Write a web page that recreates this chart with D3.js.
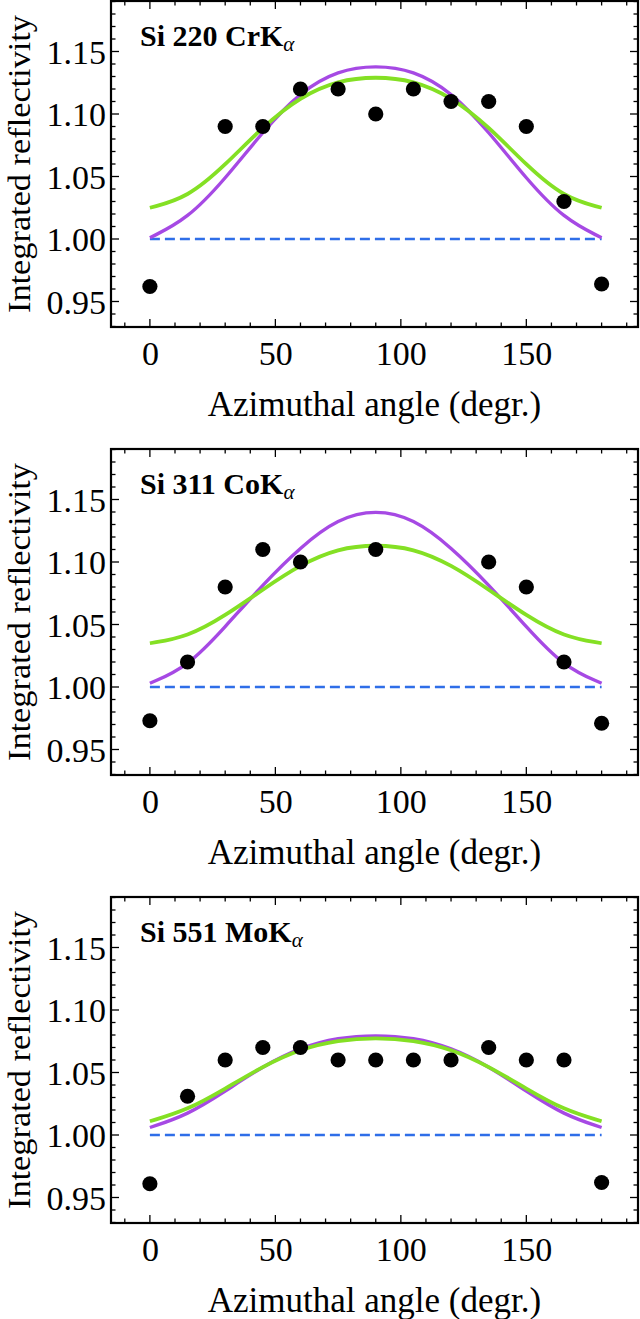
<!DOCTYPE html>
<html><head><meta charset="utf-8">
<script src="https://cdn.jsdelivr.net/npm/d3@7"></script>
<style>body{margin:0;background:#fff}svg{display:block}</style>
</head><body>
<script>
// ---- data ----
const curveAngles = [0,15,30,45,60,75,90,105,120,135,150,165,180];
const panelNames = ["Si 220 CrK", "Si 311 CoK", "Si 551 MoK"];
const xTicks = [0,50,100,150];
const yTicks = [0.95,1.00,1.05,1.10,1.15];

const dotsX220 = [0,30,45,60,75,90,105,120,135,150,165,180];
const dotsY220 = [0.962,1.09,1.09,1.12,1.12,1.10,1.12,1.11,1.11,1.09,1.03,0.964];
const purple220 = [1.001,1.016,1.048,1.086,1.118,1.135,1.139,1.135,1.118,1.086,1.048,1.016,1.001];
const green220  = [1.025,1.033,1.059,1.090,1.114,1.127,1.130,1.127,1.114,1.090,1.059,1.033,1.025];

const dotsX311 = [0,15,30,45,60,90,135,150,165,180];
const dotsY311 = [0.973,1.02,1.08,1.11,1.10,1.11,1.10,1.08,1.02,0.971];
const purple311 = [1.003,1.016,1.048,1.082,1.112,1.135,1.142,1.135,1.112,1.082,1.048,1.016,1.003];
const green311  = [1.035,1.040,1.057,1.078,1.098,1.111,1.114,1.111,1.098,1.078,1.057,1.040,1.035];

const dotsX551 = [0,15,30,45,60,75,90,105,120,135,150,165,180];
const dotsY551 = [0.961,1.031,1.06,1.07,1.07,1.06,1.06,1.06,1.06,1.07,1.06,1.06,0.962];
const purple551 = [1.006,1.016,1.035,1.055,1.070,1.078,1.080,1.078,1.070,1.055,1.035,1.016,1.006];
const green551  = [1.011,1.020,1.037,1.055,1.069,1.076,1.078,1.076,1.069,1.055,1.037,1.020,1.011];

const panels = [
  {name: panelNames[0], dx: dotsX220, dy: dotsY220, purple: purple220, green: green220},
  {name: panelNames[1], dx: dotsX311, dy: dotsY311, purple: purple311, green: green311},
  {name: panelNames[2], dx: dotsX551, dy: dotsY551, purple: purple551, green: green551}
];

// ---- layout ----
const W = 640, H = 1319;
const offsets = [0, 448, 896];
const frameL = 111, frameR = 638, frameT = 1, frameB = 327;
const serif = "'Liberation Serif','Times New Roman',Times,serif";

const svg = d3.select("body").append("svg").attr("width", W).attr("height", H);

const x = d3.scaleLinear().domain([-15.5, 194.5]).range([frameL, frameR]);
const y = d3.scaleLinear().domain([0.9296, 1.1904]).range([frameB, frameT]);

panels.forEach((p, i) => {
  const g = svg.append("g").attr("transform", `translate(0,${offsets[i]})`);

  // dashed reference line
  g.append("line")
    .attr("x1", x(0)).attr("x2", x(180))
    .attr("y1", y(1)).attr("y2", y(1))
    .attr("stroke", "#2f6ee8").attr("stroke-width", 2.4)
    .attr("stroke-dasharray", "10,5");

  const line = d3.line().x((d, k) => x(curveAngles[k])).y(d => y(d)).curve(d3.curveBasis);
  g.append("path").attr("d", line(p.purple)).attr("fill", "none")
    .attr("stroke", "#a649e4").attr("stroke-width", 3.4);
  g.append("path").attr("d", line(p.green)).attr("fill", "none")
    .attr("stroke", "#84e024").attr("stroke-width", 3.8);

  // dots
  g.selectAll("circle.d").data(p.dx).enter().append("circle")
    .attr("cx", d => x(d)).attr("cy", (d, k) => y(p.dy[k])).attr("r", 7.6)
    .attr("fill", "#000");

  // ticks (inward) on all sides
  const xMinor = d3.range(-10, 191, 10);
  const yMinor = d3.range(0.93, 1.1905, 0.01).map(v => +v.toFixed(2));
  const isMajX = v => v % 50 === 0;
  const isMajY = v => Math.abs(v * 20 - Math.round(v * 20)) < 1e-6;
  const tg = g.append("g");
  xMinor.forEach(v => {
    const L = isMajX(v) ? 8 : 4.5;
    tg.append("line").attr("x1", x(v)).attr("x2", x(v)).attr("y1", frameB).attr("y2", frameB - L)
      .attr("stroke", "#000").attr("stroke-width", 1.3);
    tg.append("line").attr("x1", x(v)).attr("x2", x(v)).attr("y1", frameT).attr("y2", frameT + L)
      .attr("stroke", "#000").attr("stroke-width", 1.3);
  });
  yMinor.forEach(v => {
    const L = isMajY(v) ? 8 : 4.5;
    tg.append("line").attr("y1", y(v)).attr("y2", y(v)).attr("x1", frameL).attr("x2", frameL + L)
      .attr("stroke", "#000").attr("stroke-width", 1.3);
    tg.append("line").attr("y1", y(v)).attr("y2", y(v)).attr("x1", frameR).attr("x2", frameR - L)
      .attr("stroke", "#000").attr("stroke-width", 1.3);
  });

  // tick labels via d3 axes
  const ax = g.append("g").attr("transform", `translate(0,${frameB})`)
    .call(d3.axisBottom(x).tickValues(xTicks).tickSize(0).tickPadding(0).tickFormat(d3.format("d")));
  ax.select(".domain").remove();
  ax.selectAll("text").attr("font-family", serif).attr("font-size", 34).attr("fill", "#000")
    .attr("dy", null).attr("y", 38);

  const ay = g.append("g").attr("transform", `translate(${frameL},0)`)
    .call(d3.axisLeft(y).tickValues(yTicks).tickSize(0).tickPadding(5).tickFormat(d3.format(".2f")));
  ay.select(".domain").remove();
  ay.selectAll("text").attr("font-family", serif).attr("font-size", 34).attr("fill", "#000")
    .attr("dy", "0.34em");

  // frame
  g.append("rect").attr("x", frameL).attr("y", frameT)
    .attr("width", frameR - frameL).attr("height", frameB - frameT)
    .attr("fill", "none").attr("stroke", "#000").attr("stroke-width", 2.2);

  // panel title
  const t = g.append("text").attr("x", 140).attr("y", 45.5)
    .attr("font-family", serif).attr("font-size", 30).attr("font-weight", "bold").attr("fill", "#000");
  t.append("tspan").text(p.name);
  t.append("tspan").text("α").attr("font-size", 21).attr("font-style", "italic")
    .attr("font-weight", "normal").attr("dy", 5);

  // axis titles
  g.append("text").attr("x", (frameL + frameR) / 2).attr("y", 416)
    .attr("text-anchor", "middle").attr("font-family", serif).attr("font-size", 35)
    .attr("fill", "#000").text("Azimuthal angle (degr.)");
  g.append("text").attr("transform", `translate(29.5,${(frameT + frameB) / 2}) rotate(-90)`)
    .attr("text-anchor", "middle").attr("font-family", serif).attr("font-size", 32)
    .attr("textLength", 298).attr("lengthAdjust", "spacingAndGlyphs")
    .attr("fill", "#000").text("Integrated reflectivity");
});
</script>
</body></html>
